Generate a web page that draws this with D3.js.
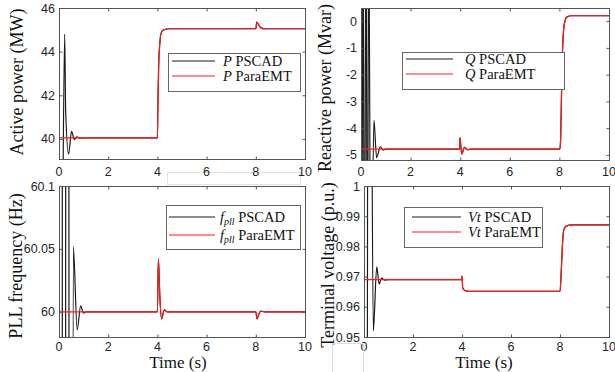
<!DOCTYPE html>
<html>
<head>
<meta charset="utf-8">
<script src="https://cdn.jsdelivr.net/npm/d3@7"></script>
<style>
	body { margin: 0; background: #fff; }
	svg { display: block; }
</style>
</head>
<body>
<svg id="chart" width="615" height="372"></svg>
<script>
// tick values
const xTicks = [0, 2, 4, 6, 8, 10];
const pTicks = [40, 42, 44, 46];
const qTicks = [-5, -4, -3, -2, -1, 0];
const fTicks = [60, 60.05, 60.1];
const vTicks = [0.95, 0.96, 0.97, 0.98, 0.99, 1];

// [time (s), value]
const pPara = [[0, 40.05], [4.0, 40.05], [4.02, 41.6], [4.05, 43.3], [4.1, 44.4], [4.15, 44.85], [4.25, 45.0], [4.5, 45.05],
	[8.0, 45.05], [8.04, 45.35], [8.1, 45.25], [8.2, 45.1], [8.35, 45.05], [10, 45.05]];
const pPscad = [[0, 30], [0.09, 30], [0.23, 44.8], [0.27, 41.3], [0.39, 39.3], [0.51, 40.35], [0.62, 39.97], [0.72, 40.1],
	[0.85, 40.03], [1.0, 40.05], [4.0, 40.05], [4.02, 41.6], [4.05, 43.3], [4.1, 44.4], [4.15, 44.85], [4.25, 45.0],
	[4.5, 45.05], [8.0, 45.05], [8.04, 45.35], [8.1, 45.25], [8.2, 45.1], [8.35, 45.05], [10, 45.05]];

const qPara = [[0, -4.78], [3.97, -4.78], [3.99, -4.35], [4.06, -4.97], [4.17, -4.72], [4.3, -4.8], [4.45, -4.78],
	[8.02, -4.78], [8.05, -4.4], [8.08, -3.0], [8.11, -1.6], [8.15, -0.6], [8.2, -0.1], [8.3, 0.15], [8.5, 0.2], [10, 0.2]];
const qPscad = [[0, 4], [0.03, -12], [0.08, 4], [0.14, -12], [0.2, 4], [0.26, -12], [0.31, 4], [0.4, -12], [0.52, -3.7],
	[0.63, -5.1], [0.78, -4.7], [0.9, -4.82], [1.0, -4.78], [3.97, -4.78], [3.99, -4.35], [4.06, -4.97], [4.17, -4.72],
	[4.3, -4.8], [4.45, -4.78], [8.02, -4.78], [8.05, -4.4], [8.08, -3.0], [8.11, -1.6], [8.15, -0.6], [8.2, -0.1],
	[8.3, 0.15], [8.5, 0.2], [10, 0.2]];

const fPara = [[0, 59.998], [0.05, 60.0], [4.0, 60.0], [4.04, 60.042], [4.1, 60.012], [4.17, 59.9944], [4.28, 60.0016],
	[4.4, 60.0], [8.0, 60.0], [8.05, 59.9944], [8.12, 59.998], [8.2, 60.0005], [8.35, 60.0], [10, 60.0]];
const fPscad = [[0, 60.0], [0.0675, 62], [0.2025, 58], [0.3375, 62], [0.4725, 58], [0.58, 60.052], [0.74, 59.9857],
	[0.88, 60.0048], [0.99, 59.999], [1.1, 60.0], [4.0, 60.0], [4.04, 60.042], [4.1, 60.012], [4.17, 59.9944],
	[4.28, 60.0016], [4.4, 60.0], [8.0, 60.0], [8.05, 59.9944], [8.12, 59.998], [8.2, 60.0005], [8.35, 60.0], [10, 60.0]];

const vPara = [[0, 0.969], [3.98, 0.969], [4.0, 0.9702], [4.03, 0.9662], [4.08, 0.9656], [4.2, 0.9652], [4.4, 0.9651],
	[8.0, 0.9651], [8.05, 0.9715], [8.1, 0.9805], [8.15, 0.9853], [8.25, 0.9867], [8.5, 0.9871], [10, 0.9871]];
const vPscad = [[0, 0.9], [0.13, 0.9], [0.16, 1.1], [0.26, 1.1], [0.38, 0.952], [0.52, 0.9732], [0.62, 0.9675],
	[0.72, 0.9695], [0.85, 0.9688], [1.0, 0.969], [3.98, 0.969], [4.0, 0.9702], [4.03, 0.9662], [4.08, 0.9656],
	[4.2, 0.9652], [4.4, 0.9651], [8.0, 0.9651], [8.05, 0.9715], [8.1, 0.9805], [8.15, 0.9853], [8.25, 0.9867],
	[8.5, 0.9871], [10, 0.9871]];

const serif = '"Liberation Serif", "Times New Roman", serif';
const sans = '"Liberation Sans", Arial, sans-serif';
const black = '#1a1a1a', red = '#ff1a1a';

const panels = [
	{ id: 'p', box: [59, 8, 305, 159], yDomain: [39.08, 46], yTicks: pTicks, yLabel: 'Active power (MW)',
		labelAt: [23, 82], pscad: pPscad, para: pPara, sym: 'P', xLabelY: 176, time: false,
		legend: { x: 168, y: 53, w: 132, h: 38, l0: 172, l1: 215, tx: 223, rows: [66, 81] } },
	{ id: 'q', box: [361, 8, 609, 160], yDomain: [-5.19, 0.49], yTicks: qTicks, yLabel: 'Reactive power (Mvar)',
		labelAt: [331, 88], pscad: qPscad, para: qPara, sym: 'Q', xLabelY: 176, time: false,
		legend: { x: 402, y: 52, w: 162, h: 37, l0: 406, l1: 453, tx: 465, rows: [64, 79] } },
	{ id: 'f', box: [59, 186, 305, 337], yDomain: [59.98, 60.1], yTicks: fTicks, yLabel: 'PLL frequency (Hz)',
		labelAt: [22, 266], pscad: fPscad, para: fPara, sym: 'f', xLabelY: 351, time: true, timeX: 178,
		legend: { x: 166, y: 205, w: 134, h: 44, l0: 169, l1: 215, tx: 220, rows: [222, 240] } },
	{ id: 'v', box: [364, 186, 609, 337], yDomain: [0.95, 1], yTicks: vTicks, yLabel: 'Terminal voltage (p.u.)',
		labelAt: [334, 265], pscad: vPscad, para: vPara, sym: 'Vt', xLabelY: 351, time: true, timeX: 484,
		legend: { x: 404, y: 207, w: 138, h: 40, l0: 412, l1: 461, tx: 468, rows: [222, 237] } }
];

const svg = d3.select('#chart');

// composition leftovers in the original figure
svg.append('rect').attr('x', 167.5).attr('y', 172.5).attr('width', 133).attr('height', 12)
	.attr('fill', '#fff').attr('stroke', '#e2e2e2');

function symbol(text, sym) {
	if (sym === 'f') {
		text.append('tspan').attr('font-style', 'italic').text('f');
		text.append('tspan').attr('font-style', 'italic').attr('font-size', 10).attr('dy', 3).text('pll');
		return 3;
	}
	text.append('tspan').attr('font-style', 'italic').text(sym);
	return 0;
}

panels.forEach(pn => {
	let [x0, y0, x1, y1] = pn.box;
	let x = d3.scaleLinear().domain([0, 10]).range([x0, x1]),
		y = d3.scaleLinear().domain(pn.yDomain).range([y1, y0]);

	let g = svg.append('g');

	g.append('clipPath').attr('id', 'clip-' + pn.id)
		.append('rect').attr('x', x0).attr('y', y0).attr('width', x1 - x0).attr('height', y1 - y0);

	let line = d3.line()
		.x(d => x(d[0]))
		.y(d => y(d[1]))
		.curve(d3.curveMonotoneX);

	let plot = g.append('g').attr('clip-path', `url(#clip-${pn.id})`);
	plot.append('path').datum(pn.pscad)
		.attr('fill', 'none').attr('stroke', black).attr('stroke-width', 1.2).attr('d', line);
	plot.append('path').datum(pn.para)
		.attr('fill', 'none').attr('stroke', red).attr('stroke-width', 1.2).attr('d', line);

	// box + inward ticks (MATLAB style)
	g.append('rect').attr('x', x0 + 0.5).attr('y', y0 + 0.5).attr('width', x1 - x0).attr('height', y1 - y0)
		.attr('fill', 'none').attr('stroke', '#555').attr('stroke-width', 1);

	let bottom = g.append('g').attr('transform', `translate(0, ${y1 + 0.5})`)
		.call(d3.axisTop(x).tickValues(xTicks).tickSize(3).tickFormat(''));
	let top = g.append('g').attr('transform', `translate(0, ${y0 + 0.5})`)
		.call(d3.axisBottom(x).tickValues(xTicks).tickSize(3).tickFormat(''));
	let left = g.append('g').attr('transform', `translate(${x0 + 0.5}, 0)`)
		.call(d3.axisRight(y).tickValues(pn.yTicks).tickSize(3).tickFormat(''));
	let right = g.append('g').attr('transform', `translate(${x1 + 0.5}, 0)`)
		.call(d3.axisLeft(y).tickValues(pn.yTicks).tickSize(3).tickFormat(''));
	[bottom, top, left, right].forEach(a => {
		a.select('.domain').remove();
		a.selectAll('line').attr('stroke', '#555');
	});

	g.selectAll('text.xt').data(xTicks).enter().append('text')
		.attr('class', 'xt')
		.attr('x', d => x(d)).attr('y', pn.xLabelY)
		.attr('text-anchor', 'middle')
		.attr('font-family', sans).attr('font-size', 12.5).attr('fill', '#262626')
		.text(d => d);

	g.selectAll('text.yt').data(pn.yTicks).enter().append('text')
		.attr('class', 'yt')
		.attr('x', x0 - 4).attr('y', d => y(d)).attr('dy', '0.36em')
		.attr('text-anchor', 'end')
		.attr('font-family', sans).attr('font-size', 12.5).attr('fill', '#262626')
		.text(d => d);

	// legend
	let lg = pn.legend;
	let leg = g.append('g');
	leg.append('rect').attr('x', lg.x + 0.5).attr('y', lg.y + 0.5).attr('width', lg.w).attr('height', lg.h)
		.attr('fill', '#fff').attr('stroke', '#666').attr('stroke-width', 1);
	[['PSCAD', black], ['ParaEMT', red]].forEach(([name, col], i) => {
		let ry = lg.rows[i];
		leg.append('line').attr('x1', lg.l0).attr('x2', lg.l1).attr('y1', ry - 5).attr('y2', ry - 5)
			.attr('stroke', col).attr('stroke-width', 1.2);
		let t = leg.append('text').attr('x', lg.tx).attr('y', ry)
			.attr('font-family', serif).attr('font-size', 14.5).attr('fill', '#111');
		let back = symbol(t, pn.sym);
		t.append('tspan').attr('dy', -back).text(' ' + name);
	});

	g.append('text')
		.attr('transform', `translate(${pn.labelAt[0]}, ${pn.labelAt[1]}) rotate(-90)`)
		.attr('text-anchor', 'middle')
		.attr('font-family', serif).attr('font-size', 18).attr('fill', '#111')
		.text(pn.yLabel);

	if (pn.time) {
		g.append('text')
			.attr('x', pn.timeX).attr('y', 368)
			.attr('text-anchor', 'middle')
			.attr('font-family', serif).attr('font-size', 17).attr('fill', '#111')
			.text('Time (s)');
	}
});

// light frame left round the voltage label in the original
svg.append('rect').attr('x', 332.5).attr('y', 343.5).attr('width', 31).attr('height', 30)
	.attr('fill', 'none').attr('stroke', '#ddd');
</script>
</body>
</html>
